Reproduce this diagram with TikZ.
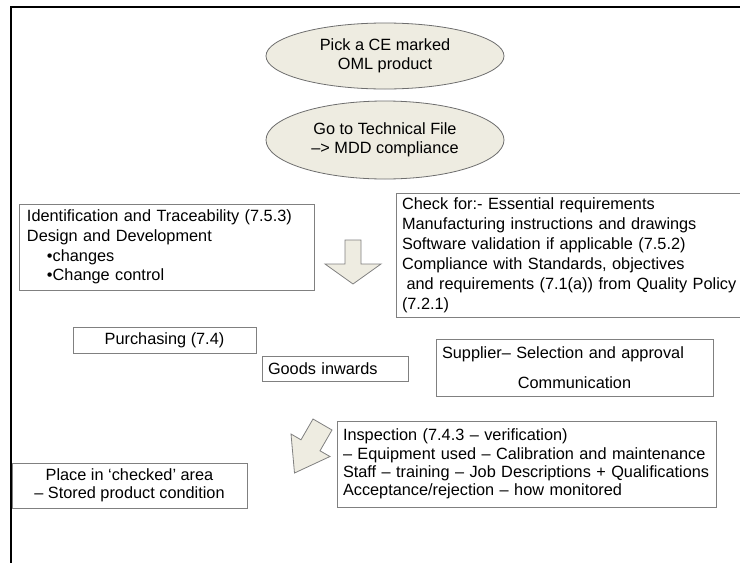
\documentclass[tikz,border=0pt]{standalone}
\usepackage{fontspec}
\setmainfont{Liberation Sans}
\usetikzlibrary{shapes.geometric}
\definecolor{beige}{RGB}{238,236,225}
\definecolor{boxgray}{RGB}{128,128,128}
\definecolor{ovalgray}{RGB}{110,110,110}
\begin{document}
\begin{tikzpicture}[x=1pt,y=-1pt,
  box/.style={draw=boxgray, line width=0.8pt, inner sep=0pt, text=black},
  oval/.style={ellipse, draw=ovalgray, fill=beige, line width=0.8pt, inner sep=0pt, align=center, font=\fontsize{16.3}{19}\selectfont},
  blockarrow/.style={draw=boxgray, fill=beige, line width=0.8pt, line join=miter}]
\useasboundingbox (0,0) rectangle (740,563);
\fill[white] (0,0) rectangle (740,563);
% frame
\draw[line width=2pt] (11,580) -- (11,7) -- (760,7);
% ovals
\node[oval, minimum width=238pt, minimum height=66pt] (pick) at (385,56) {Pick a CE marked\\OML product};
\node[oval, minimum width=238pt, minimum height=78pt] (tech) at (385,140) {Go to Technical File\\–> MDD compliance};
% identification box
\node[box, minimum width=295pt, minimum height=86pt, text width=279pt, align=left, font=\fontsize{16.3}{19.7}\selectfont] (ident) at (166.5,247)
 {Identification and Traceability (7.5.3)\\Design and Development\\\hspace*{20pt}•changes\\\hspace*{20pt}•Change control};
% check box
\node[box, minimum width=352pt, minimum height=124pt, text width=340pt, align=left, font=\fontsize{16.3}{20}\selectfont] (check) at (572,255)
 {Check for:- Essential requirements\\Manufacturing instructions and drawings\\Software validation if applicable (7.5.2)\\Compliance with Standards, objectives\\\hspace*{4.5pt}and requirements (7.1(a)) from Quality Policy\\(7.2.1)};
% down arrow
\draw[blockarrow] (345,240) -- (361,240) -- (361,264) -- (381,264) -- (353,284) -- (325,264) -- (345,264) -- cycle;
% purchasing
\node[box, minimum width=183pt, minimum height=26pt, font=\fontsize{16.3}{19}\selectfont] (purch) at (164.5,340) {Purchasing (7.4)};
% goods inwards
\node[box, minimum width=146pt, minimum height=25pt, text width=134pt, align=left, font=\fontsize{16.3}{19}\selectfont] (goods) at (335,368.5) {Goods inwards};
% supplier
\node[box, minimum width=277pt, minimum height=57pt, text width=265pt, align=left, font=\fontsize{16.3}{20}\selectfont] (supp) at (574.5,367.5)
 {Supplier– Selection and approval\\[10pt]\makebox[265pt][c]{Communication}};
% diagonal arrow
\draw[blockarrow] (313,419) -- (332,430) -- (320,450.8) -- (330,456.5) -- (294.5,473) -- (291,434) -- (301,439.8) -- cycle;
% inspection
\node[box, minimum width=379pt, minimum height=86pt, text width=367pt, align=left, font=\fontsize{16.3}{18.3}\selectfont] (insp) at (526.5,464)
 {Inspection (7.4.3 – verification)\\– Equipment used – Calibration and maintenance\\Staff – training – Job Descriptions + Qualifications\\Acceptance/rejection – how monitored};
% place
\node[box, minimum width=235pt, minimum height=45pt, align=center, font=\fontsize{16.3}{18}\selectfont] (place) at (129.5,485.5)
 {Place in ‘checked’ area\\– Stored product condition};
\end{tikzpicture}
\end{document}
